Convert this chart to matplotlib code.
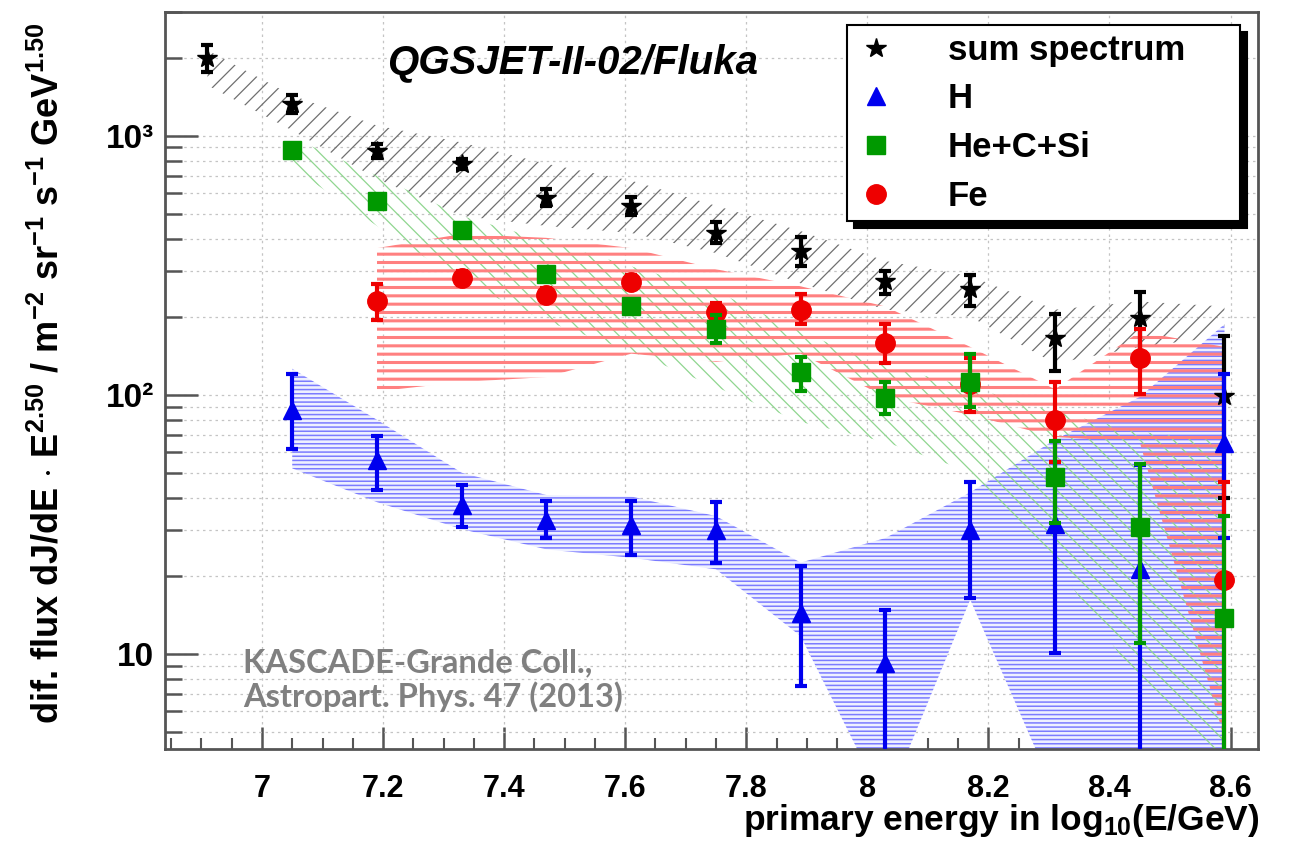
import matplotlib
matplotlib.use('Agg')
import matplotlib.pyplot as plt
from matplotlib.lines import Line2D
from matplotlib.ticker import MultipleLocator, FixedLocator, LogLocator, FuncFormatter, NullFormatter

# KASCADE-Grande unfolded spectra, QGSJET-II-02/Fluka interaction model
# log10(E/GeV) bin centres
x_sum = [6.91, 7.05, 7.19, 7.33, 7.47, 7.61, 7.75, 7.89, 8.03, 8.17, 8.31, 8.45, 8.59]
x_h = [7.05, 7.19, 7.33, 7.47, 7.61, 7.75, 7.89, 8.03, 8.17, 8.31, 8.45, 8.59]
x_fe = [7.19, 7.33, 7.47, 7.61, 7.75, 7.89, 8.03, 8.17, 8.31, 8.45, 8.59]

# sum spectrum: value, upper and lower end of the statistical error bar
sum_val = [1987, 1319, 875, 779, 575, 536, 420, 358, 274, 255, 165, 197, 99]
sum_hi = [2234, 1429, 930, 815, 620, 580, 465, 405, 300, 290, 204, 250, 168]
sum_lo = [1754, 1217, 820, 745, 535, 495, 385, 315, 245, 220, 123, 140, 40]
# systematic band of the sum spectrum
sum_band_hi = [2133, 1429, 1093, 940, 778, 670, 536, 428, 328, 287, 213, 229, 219]
sum_band_lo = [1563, 1046, 681, 490, 448, 421, 352, 269, 213, 200, 132, 153, 168]

# H
h_val = [87.5, 56, 37.5, 33, 31.5, 30, 14.4, 9.2, 30, 31.6, 21.2, 65]
h_hi = [120, 69, 45, 39, 39, 38.5, 21.9, 14.8, 46, 55, 53.6, 120]
h_lo = [62, 43, 30.8, 28, 24, 22.5, 7.5, 3, 16.5, 10.1, 3, 28]
h_band_hi = [126, 80, 50, 41, 40.5, 34, 22.5, 28, 42, 67, 98, 187]
h_band_lo = [52, 38.5, 30.3, 25.3, 23.5, 21.2, 11.7, 2.6, 16.2, 2.9, 2.5, 2.5]

# He+C+Si
hcs_val = [883, 560, 432, 292, 219, 180, 122, 97, 112, 48, 31, 13.8]
hcs_hi = [930, 590, 455, 305, 230, 203, 140, 112, 143, 66, 54, 34]
hcs_lo = [840, 530, 410, 280, 208, 158, 103, 84, 90, 32, 11, 3]
hcs_band_hi = [982, 700, 490, 392, 313, 251, 175, 129, 107, 86, 72, 66]
hcs_band_lo = [751, 448, 274, 192, 147, 107, 78.5, 65.7, 50.4, 22.5, 7.7, 3.8]

# Fe
fe_val = [229, 282, 242, 272, 208, 213, 158, 110, 80, 139, 19.2]
fe_hi = [267, 300, 258, 290, 225, 244, 187, 138, 112, 179, 46]
fe_lo = [195, 265, 228, 255, 192, 187, 132, 86, 55, 101, 3]
fe_band_hi = [368, 417, 403, 368, 305, 262, 219, 153, 105, 175, 153]
fe_band_lo = [103, 112, 117, 144, 134, 144, 98, 83.6, 68.7, 65.7, 4.7]

plt.rcParams['font.family'] = ['Liberation Sans', 'DejaVu Sans']
plt.rcParams['font.weight'] = 'bold'
plt.rcParams['axes.labelweight'] = 'bold'
plt.rcParams['mathtext.fontset'] = 'custom'
plt.rcParams['mathtext.rm'] = 'Liberation Sans:bold'
plt.rcParams['mathtext.it'] = 'Liberation Sans:bold:italic'
plt.rcParams['mathtext.bf'] = 'Liberation Sans:bold'
plt.rcParams['mathtext.default'] = 'rm'

fig = plt.figure(figsize=(12.9, 8.51), dpi=100)
ax = fig.add_axes([0.128, 0.12, 0.847, 0.866])
ax.set_yscale('log')
ax.set_xlim(6.84, 8.645)
ax.set_ylim(4.3, 3000)


def band(x, lo, hi, color, hatch, lw, face='none'):
    # systematic uncertainty drawn as a hatched area, ROOT style
    with plt.rc_context({'hatch.linewidth': lw}):
        ax.fill_between(x, lo, hi, facecolor=face, edgecolor=color,
                        hatch=hatch, linewidth=0, zorder=1)


band(x_sum, sum_band_lo, sum_band_hi, '#707070', '//', 0.9)
band(x_h, h_band_lo, h_band_hi, '#7b7bff', '----', 1.1, face='#eef0ff')
band(x_h, hcs_band_lo, hcs_band_hi, '#8fd68f', '\\\\', 0.9)
band(x_fe, fe_band_lo, fe_band_hi, '#ff8080', '--', 2.2)


def points(x, val, hi, lo, marker, color, ms, z):
    yerr = [[v - l for v, l in zip(val, lo)], [h - v for v, h in zip(val, hi)]]
    ax.errorbar(x, val, yerr=yerr, fmt=marker, color=color, ms=ms,
                elinewidth=3, capsize=4, capthick=3, zorder=z)


points(x_sum, sum_val, sum_hi, sum_lo, '*', 'black', 15, 3)
points(x_h, h_val, h_hi, h_lo, '^', '#0000ee', 13, 4)
points(x_fe, fe_val, fe_hi, fe_lo, 'o', '#ee0000', 14, 5)
points(x_h, hcs_val, hcs_hi, hcs_lo, 's', '#009900', 13, 6)

# axes, ticks and grid
ax.set_axisbelow(True)
ax.grid(True, which='major', axis='x', ls=(0, (2, 3)), color='#c4c4c4', lw=0.9)
ax.grid(True, which='both', axis='y', ls=(0, (2, 3)), color='#c4c4c4', lw=0.9)
for s in ax.spines.values():
    s.set_color('#555555')
    s.set_linewidth(2)

ax.xaxis.set_major_locator(MultipleLocator(0.2))
ax.xaxis.set_minor_locator(MultipleLocator(0.05))
ax.xaxis.set_major_formatter(FuncFormatter(lambda v, p: f'{v:g}'))
ax.yaxis.set_major_locator(FixedLocator([10, 100, 1000]))
ax.yaxis.set_major_formatter(FuncFormatter(
    lambda v, p: {10: '10', 100: '10²', 1000: '10³'}.get(int(round(v)), '')))
ax.yaxis.set_minor_locator(LogLocator(subs=range(2, 10)))
ax.yaxis.set_minor_formatter(NullFormatter())

ax.tick_params(which='both', direction='in', color='#555555')
ax.tick_params(axis='x', which='major', length=16, width=1.8, pad=18, labelsize=22)
ax.tick_params(axis='x', which='minor', length=8, width=1.5)
ax.tick_params(axis='y', which='major', length=24, width=1.8, pad=8, labelsize=24)
ax.tick_params(axis='y', which='minor', length=12, width=1.8)

ax.set_xlabel('primary energy in log$_{10}$(E/GeV)', fontsize=25.5, ha='right')
ax.xaxis.set_label_coords(1.002, -0.072)
ax.set_ylabel('dif. flux dJ/dE $\\cdot$ E$^{2.50}$ / m$^{-2}$ sr$^{-1}$ s$^{-1}$ GeV$^{1.50}$',
              fontsize=26)
ax.yaxis.set_label_coords(-0.09, 0.51)

ax.text(0.373, 0.931, 'QGSJET-II-02/Fluka', transform=ax.transAxes, ha='center',
        va='center', fontsize=29, fontweight='bold', fontstyle='italic')
for yy, line in [(0.117, 'KASCADE-Grande Coll.,'), (0.071, 'Astropart. Phys. 47 (2013)')]:
    ax.text(0.071, yy, line, transform=ax.transAxes, ha='left', va='center',
            fontsize=23.5, fontweight='bold', color='#808080', family=['Lato', 'Open Sans'])

handles = [
    Line2D([], [], marker='*', ls='none', color='black', ms=15),
    Line2D([], [], marker='^', ls='none', color='#0000ee', ms=13),
    Line2D([], [], marker='s', ls='none', color='#009900', ms=13),
    Line2D([], [], marker='o', ls='none', color='#ee0000', ms=14),
]
labels = ['sum spectrum', 'H', 'He+C+Si', 'Fe']
leg = ax.legend(handles, labels, loc='upper left', bbox_to_anchor=(0.624, 0.8, 0.3596, 0.182),
                mode='expand', fontsize=25, frameon=True, fancybox=False, framealpha=1,
                edgecolor='black', handlelength=1.2, handletextpad=1.45, labelspacing=0.45,
                borderpad=0.25, borderaxespad=0,
                shadow={'ox': 5, 'oy': -5, 'facecolor': 'black', 'edgecolor': 'black', 'alpha': 1})
leg.get_frame().set_linewidth(1.5)
leg.set_zorder(10)

fig.savefig('out.png', dpi=100)
